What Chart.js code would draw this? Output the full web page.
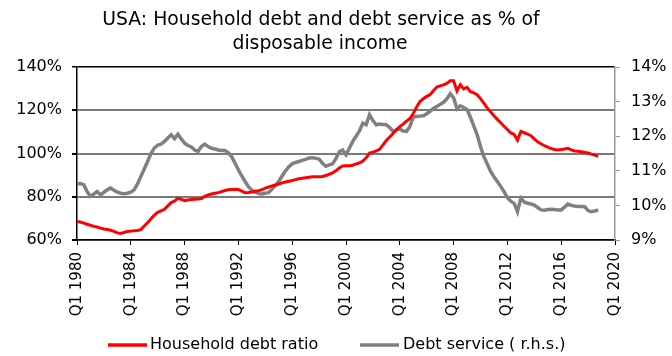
<!DOCTYPE html>
<html>
<head>
<meta charset="utf-8">
<script src="https://cdn.jsdelivr.net/npm/chart.js@4.4.1/dist/chart.umd.min.js"></script>
<style>
  html, body { margin: 0; padding: 0; background: #fff; }
  #wrap { width: 672px; height: 356px; position: relative; }
</style>
</head>
<body>
<div id="wrap"><canvas id="c" width="672" height="356"></canvas></div>
<script>
// ---- Data (quarterly, Q1 1980 ... Q4 2018) ----
const titleLines = ["USA: Household debt and debt service as % of", "disposable income"];
const seriesNames = ["Household debt ratio", "Debt service ( r.h.s.)"];
const seriesColors = ["#ff0000", "#808080"];
const firstYear = 1980;
const lastAxisYear = 2020;

// Household debt ratio, % of disposable income (left axis)
const householdDebt = [
  68.6, 68.3, 67.8, 67.3, 66.8, 66.3, 66.0, 65.5, 65.1, 64.9, 64.5, 64.0, 63.3, 63.0, 63.5, 63.9,
  64.1, 64.3, 64.4, 64.8, 66.5, 68.0, 69.8, 71.5, 72.8, 73.5, 74.2, 75.8, 77.3, 78.0, 79.3, 78.8,
  78.2, 78.5, 78.7, 78.8, 78.9, 79.2, 80.2, 80.9, 81.3, 81.6, 81.9, 82.4, 82.9, 83.2, 83.4, 83.5,
  83.4, 82.6, 81.9, 82.0, 82.2, 82.5, 82.8, 83.3, 84.0, 84.5, 85.0, 85.4, 85.9, 86.4, 86.8, 87.2,
  87.5, 87.9, 88.3, 88.6, 88.8, 89.0, 89.2, 89.3, 89.3, 89.4, 89.8, 90.4, 91.0, 92.0, 93.3, 94.2,
  94.3, 94.3, 94.6, 95.2, 95.6, 96.5, 98.0, 100.2, 100.6, 101.2, 101.9, 104.0, 106.0, 107.6, 109.2, 111.0,
  112.4, 113.6, 115.0, 116.2, 118.5, 121.5, 124.0, 125.3, 126.4, 127.2, 129.0, 130.7, 131.3, 131.7, 132.4, 133.6,
  133.6, 128.9, 131.8, 129.9, 130.6, 128.6, 128.0, 127.2, 125.4, 123.3, 121.1, 119.3, 117.4, 115.8, 114.2, 112.6,
  111.1, 109.5, 108.8, 106.2, 110.2, 109.6, 109.0, 108.2, 106.8, 105.4, 104.5, 103.6, 102.9, 102.3, 101.8, 101.6,
  101.8, 102.1, 102.4, 101.7, 101.2, 101.0, 100.8, 100.5, 100.2, 99.7, 99.3, 98.7
];

// Debt service ratio, % of disposable income (right axis)
const debtService = [
  10.62, 10.63, 10.60, 10.40, 10.26, 10.33, 10.40, 10.30, 10.38, 10.45, 10.50, 10.44, 10.38, 10.35, 10.34, 10.35,
  10.38, 10.45, 10.62, 10.84, 11.05, 11.27, 11.50, 11.66, 11.74, 11.77, 11.85, 11.95, 12.04, 11.93, 12.06, 11.92,
  11.80, 11.73, 11.69, 11.60, 11.56, 11.70, 11.77, 11.70, 11.65, 11.63, 11.60, 11.59, 11.59, 11.52, 11.41, 11.22,
  11.03, 10.85, 10.69, 10.54, 10.44, 10.38, 10.34, 10.33, 10.35, 10.37, 10.47, 10.58, 10.69, 10.85, 11.00, 11.12,
  11.20, 11.24, 11.27, 11.30, 11.33, 11.37, 11.38, 11.36, 11.34, 11.22, 11.13, 11.17, 11.20, 11.35, 11.55, 11.60,
  11.46, 11.65, 11.85, 12.00, 12.15, 12.38, 12.33, 12.62, 12.45, 12.33, 12.35, 12.34, 12.33, 12.25, 12.14, 12.18,
  12.21, 12.15, 12.14, 12.28, 12.56, 12.57, 12.58, 12.59, 12.65, 12.72, 12.80, 12.86, 12.92, 12.98, 13.08, 13.23,
  13.11, 12.79, 12.88, 12.83, 12.77, 12.55, 12.30, 12.04, 11.70, 11.41, 11.20, 10.98, 10.83, 10.69, 10.55, 10.40,
  10.22, 10.12, 10.06, 9.82, 10.21, 10.10, 10.06, 10.04, 10.01, 9.94, 9.87, 9.86, 9.88, 9.89, 9.88, 9.87,
  9.87, 9.95, 10.04, 10.00, 9.98, 9.97, 9.97, 9.96, 9.85, 9.82, 9.84, 9.87
];

// Axis ticks
const leftTicks = [60, 80, 100, 120, 140];
const rightTicks = [9, 10, 11, 12, 13, 14];
const xTickEvery = 16; // one labelled tick every 4 years

// Quarter categories Q1 1980 ... Q1 2020
const quarters = [];
for (let y = firstYear; y <= lastAxisYear; y++) {
  for (let q = 1; q <= 4; q++) {
    if (y === lastAxisYear && q > 1) break;
    quarters.push("Q" + q + " " + y);
  }
}

const FONT = '"DejaVu Sans", Verdana, sans-serif';

const titlePlugin = {
  id: 'customTitle',
  afterDraw(chart) {
    const ctx = chart.ctx;
    ctx.save();
    ctx.font = '18.8px ' + FONT;
    ctx.fillStyle = '#000';
    ctx.textAlign = 'center';
    ctx.textBaseline = 'middle';
    ctx.fillText(titleLines[0], 321, 20);
    ctx.fillText(titleLines[1], 320, 44);
    ctx.restore();
  }
};

// Legend drawn below the axis labels (line sample + label)
const legendPlugin = {
  id: 'customLegend',
  afterDraw(chart) {
    const ctx = chart.ctx;
    const items = [
      { x0: 108, x1: 147, tx: 150 },
      { x0: 360, x1: 399, tx: 403 }
    ];
    const y = 345;
    ctx.save();
    ctx.font = '16px ' + FONT;
    ctx.textAlign = 'left';
    ctx.textBaseline = 'middle';
    chart.data.datasets.forEach((ds, i) => {
      const it = items[i];
      ctx.strokeStyle = ds.borderColor;
      ctx.lineWidth = 3.5;
      ctx.lineCap = 'butt';
      ctx.beginPath();
      ctx.moveTo(it.x0, y);
      ctx.lineTo(it.x1, y);
      ctx.stroke();
      ctx.fillStyle = '#000';
      ctx.fillText(ds.label, it.tx, y);
    });
    ctx.restore();
  }
};

new Chart(document.getElementById('c'), {
  type: 'line',
  data: {
    labels: quarters,
    datasets: [
      {
        label: seriesNames[0],
        data: householdDebt,
        yAxisID: 'y',
        borderColor: seriesColors[0],
        backgroundColor: seriesColors[0],
        borderWidth: 3,
        pointRadius: 0,
        tension: 0,
        fill: false
      },
      {
        label: seriesNames[1],
        data: debtService,
        yAxisID: 'y2',
        borderColor: seriesColors[1],
        backgroundColor: seriesColors[1],
        borderWidth: 3.5,
        pointRadius: 0,
        tension: 0,
        fill: false
      }
    ]
  },
  options: {
    responsive: false,
    animation: false,
    devicePixelRatio: 1,
    layout: { padding: { top: 67, left: 13, right: 0, bottom: 30 } },
    plugins: {
      title: { display: false },
      tooltip: { enabled: false },
      legend: { display: false }
    },
    scales: {
      x: {
        type: 'category',
        offset: false,
        afterFit(scale) { scale.height = 86; },
        grid: {
          drawOnChartArea: false,
          drawTicks: true,
          tickLength: 5,
          color: '#000',
          tickColor: '#000',
          lineWidth: 1
        },
        border: { color: '#000', width: 1.5 },
        ticks: {
          autoSkip: false,
          minRotation: 90,
          maxRotation: 90,
          padding: 7,
          color: '#000',
          font: { family: FONT, size: 15 },
          callback(value, index) {
            return index % xTickEvery === 0 ? quarters[index] : null;
          }
        }
      },
      y: {
        position: 'left',
        min: leftTicks[0],
        max: leftTicks[leftTicks.length - 1],
        afterFit(scale) { scale.width = 64; },
        afterBuildTicks(scale) { scale.ticks = leftTicks.map(v => ({ value: v })); },
        grid: {
          drawTicks: true,
          tickLength: 5,
          color(ctx) {
            if (ctx.tick && ctx.tick.value === 140) return '#000';
            return '#7a7a7a';
          },
          lineWidth(ctx) { return (ctx.tick && ctx.tick.value === 140) ? 1.5 : 2; },
          tickColor: '#000'
        },
        border: { color: '#000', width: 1.5 },
        ticks: {
          padding: 10,
          color: '#000',
          font: { family: FONT, size: 16 },
          callback(v) { return v + '%'; }
        }
      },
      y2: {
        position: 'right',
        min: rightTicks[0],
        max: rightTicks[rightTicks.length - 1],
        afterFit(scale) { scale.width = 57; },
        afterBuildTicks(scale) { scale.ticks = rightTicks.map(v => ({ value: v })); },
        grid: {
          drawOnChartArea: false,
          drawTicks: true,
          tickLength: 5,
          color: '#999',
          tickColor: '#999'
        },
        border: { color: '#999', width: 1.5 },
        ticks: {
          padding: 11,
          color: '#000',
          font: { family: FONT, size: 16 },
          callback(v) { return v + '%'; }
        }
      }
    }
  },
  plugins: [titlePlugin, legendPlugin]
});
</script>
</body>
</html>
